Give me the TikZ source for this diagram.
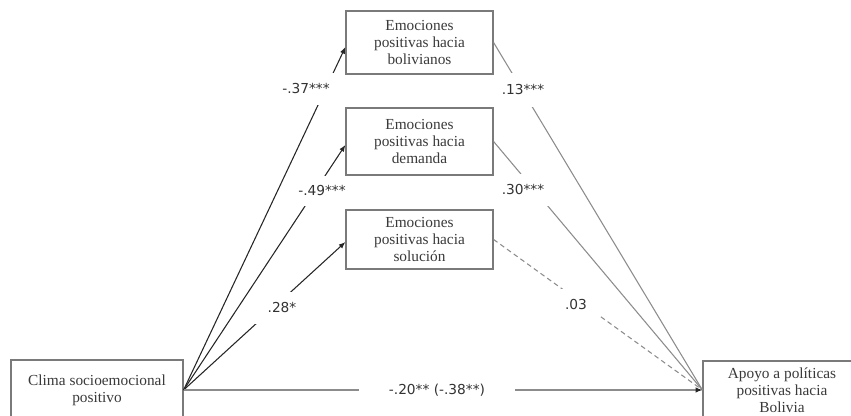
\documentclass[tikz,border=0pt]{standalone}
\usepackage{fontspec}
\setmainfont{Liberation Serif}
\newfontfamily\labfont{DejaVu Sans}
\usetikzlibrary{arrows.meta}
\definecolor{boxline}{HTML}{7A7A7A}
\definecolor{boxtext}{HTML}{3A3A3A}
\definecolor{labtext}{HTML}{333333}
\definecolor{arrdark}{HTML}{262626}
\definecolor{linegray}{HTML}{8C8C8C}
\begin{document}
\begin{tikzpicture}[x=0.75pt,y=-0.75pt,
  box/.style={draw=boxline, line width=0.9pt, fill=white, text=boxtext, align=center,
    font=\fontsize{11.5}{12.6}\selectfont, inner sep=0pt},
  lab/.style={fill=white, text=labtext, font=\labfont\fontsize{10.3}{12}\selectfont, inner sep=0pt},
  darr/.style={draw=arrdark, line width=0.8pt, -{Latex[length=5pt,width=4pt]}},
  glin/.style={draw=linegray, line width=0.8pt},
  gdash/.style={draw=linegray, line width=0.8pt, dash pattern=on 3.6pt off 2.6pt},
]
\useasboundingbox (0,0) rectangle (851,416);
\clip (0,0) rectangle (851,416);
% boxes
\node[box, minimum width=110.25pt, minimum height=47.25pt] (b1) at (419.5,42.5) {Emociones\\positivas hacia\\bolivianos};
\node[box, minimum width=110.25pt, minimum height=50.25pt] (b2) at (419.5,141.5) {Emociones\\positivas hacia\\demanda};
\node[box, minimum width=110.25pt, minimum height=44.25pt] (b3) at (419.5,239.5) {Emociones\\positivas hacia\\soluci\'on};
\node[box, minimum width=129pt, minimum height=45pt] (clima) at (97,390) {Clima socioemocional\\positivo};
\node[box, minimum width=118.5pt, minimum height=43.5pt] (apoyo) at (782,390) {Apoyo a pol\'iticas\\positivas hacia\\Bolivia};
% connectors
\draw[darr] (clima.east) -- ([yshift=-3.4pt]b1.west);
\draw[darr] (clima.east) -- ([yshift=-2.6pt]b2.west);
\draw[darr] (clima.east) -- ([yshift=-1.9pt]b3.west);
\draw[glin] (b1.east) -- (apoyo.west);
\draw[glin] (b2.east) -- (apoyo.west);
\draw[gdash] (b3.east) -- (apoyo.west);
\draw[glin, -{Latex[length=5pt,width=4pt,color=arrdark]}] (clima.east) -- (apoyo.west);
% labels
\node[lab, minimum width=45pt, minimum height=24pt] (l1) at (306,89) {-.37***};
\node[lab, minimum width=42pt, minimum height=22.5pt] (l2) at (322,191) {-.49***};
\node[lab, minimum width=42pt, minimum height=24pt] (l3) at (282,308) {.28*};
\node[lab, minimum width=39pt, minimum height=25pt] (r1) at (523,90) {.13***};
\node[lab, minimum width=42pt, minimum height=24pt] (r2) at (523,190) {.30***};
\node[lab, minimum width=34pt, minimum height=24pt] (r3) at (576,305) {.03};
\node[lab, minimum width=117pt, minimum height=14pt] (d) at (437,390) {-.20** (-.38**)};
\end{tikzpicture}
\end{document}
